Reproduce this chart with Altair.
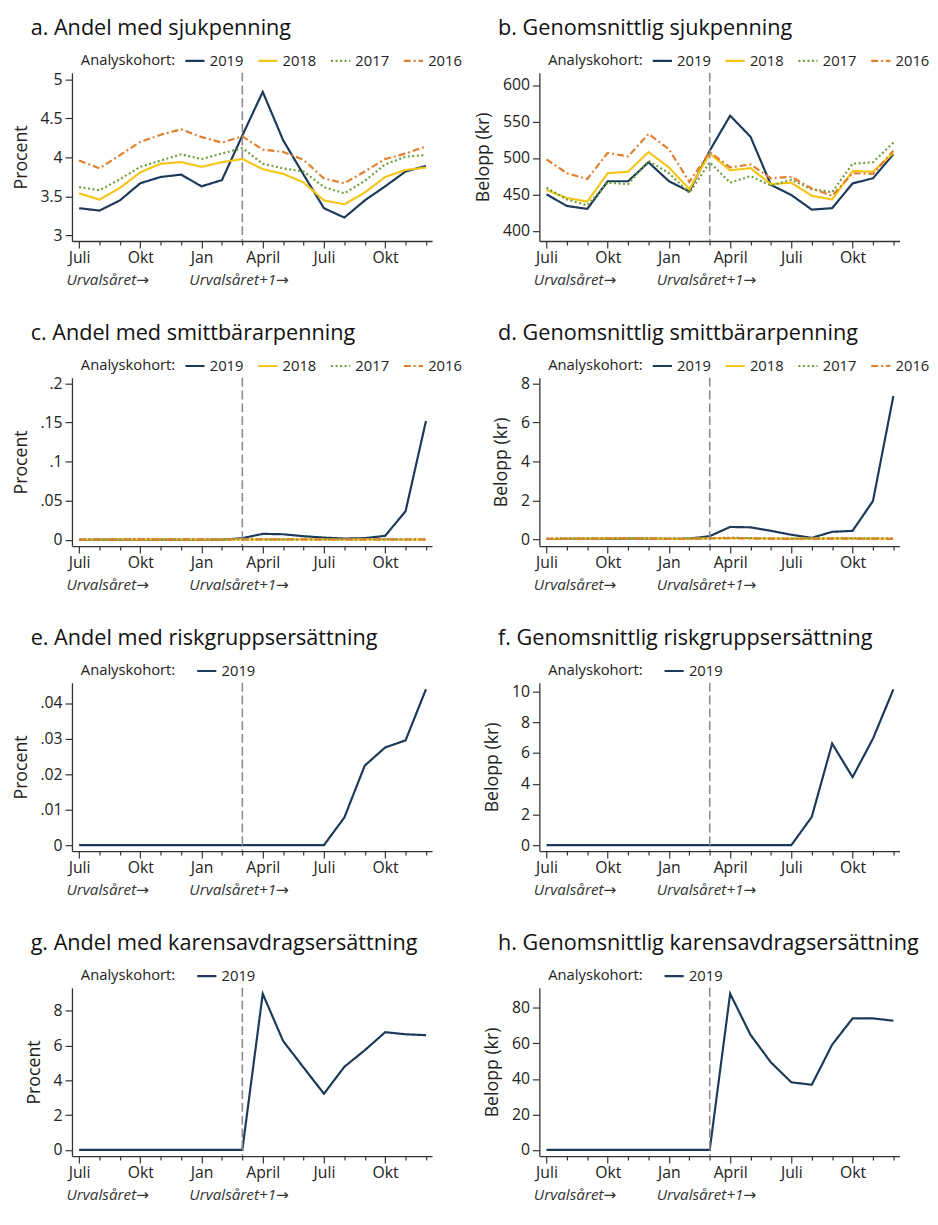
import altair as alt
import pandas as pd

FONT = "Open Sans, DejaVu Sans"
W, H = 366, 171

months = list(range(18))
month_names = {0: "Juli", 3: "Okt", 6: "Jan", 9: "April", 12: "Juli", 15: "Okt"}
cohorts = ["2019", "2018", "2017", "2016"]
cohort_colors = ["#1b3a5a", "#f5c518", "#6e9d3a", "#e07f2e"]
cohort_dashes = [[1, 0], [1, 0], [2, 2.6], [7, 3, 2, 3]]
period_labels = ["Urvalsåret→", "Urvalsåret+1→"]
period_pos = [-0.62, 5.4]
split_month = [8]

# a. Andel med sjukpenning
a_2019 = [3.35, 3.32, 3.45, 3.67, 3.75, 3.78, 3.63, 3.71, 4.28, 4.84, 4.22, 3.78, 3.35, 3.23, 3.45, 3.63, 3.82, 3.89]
a_2018 = [3.54, 3.46, 3.61, 3.81, 3.92, 3.94, 3.88, 3.94, 3.98, 3.85, 3.79, 3.68, 3.45, 3.40, 3.55, 3.75, 3.84, 3.87]
a_2017 = [3.62, 3.58, 3.72, 3.88, 3.96, 4.04, 3.98, 4.05, 4.12, 3.92, 3.86, 3.82, 3.62, 3.54, 3.70, 3.91, 4.01, 4.03]
a_2016 = [3.96, 3.86, 4.03, 4.20, 4.29, 4.36, 4.26, 4.19, 4.27, 4.10, 4.07, 3.97, 3.73, 3.67, 3.82, 3.98, 4.05, 4.14]

# b. Genomsnittlig sjukpenning
b_2019 = [450, 434, 430, 468, 468, 494, 468, 454, 510, 558, 529, 463, 449, 429, 431, 465, 472, 505]
b_2018 = [456, 445, 440, 479, 481, 508, 487, 457, 506, 483, 486, 464, 466, 448, 443, 482, 481, 507]
b_2017 = [459, 443, 435, 466, 464, 496, 479, 452, 494, 466, 475, 462, 470, 457, 453, 492, 494, 521]
b_2016 = [498, 479, 471, 507, 502, 533, 512, 467, 508, 487, 491, 472, 474, 458, 448, 479, 478, 510]

# c. Andel med smittbärarpenning
c_2019 = [0, 0, 0, 0, 0, 0, 0, 0, 0.002, 0.0075, 0.007, 0.0045, 0.0027, 0.0015, 0.002, 0.005, 0.0365, 0.152]
c_2018 = [0.0003, 0.0003, 0.0004, 0.0004, 0.0004, 0.0003, 0.0003, 0.0003, 0.0004, 0.0005, 0.0004, 0.0004, 0.0003, 0.0003, 0.0004, 0.0004, 0.0003, 0.0003]
c_2017 = [0.0004, 0.0003, 0.0003, 0.0004, 0.0005, 0.0004, 0.0003, 0.0004, 0.0004, 0.0004, 0.0004, 0.0003, 0.0003, 0.0004, 0.0004, 0.0004, 0.0004, 0.0003]
c_2016 = [0.0003, 0.0004, 0.0004, 0.0005, 0.0004, 0.0004, 0.0004, 0.0003, 0.0004, 0.0004, 0.0003, 0.0003, 0.0004, 0.0003, 0.0004, 0.0004, 0.0003, 0.0004]

# d. Genomsnittlig smittbärarpenning
d_2019 = [0.02, 0.03, 0.03, 0.04, 0.04, 0.04, 0.03, 0.04, 0.17, 0.64, 0.62, 0.44, 0.24, 0.08, 0.39, 0.44, 1.97, 7.36]
d_2018 = [0.03, 0.04, 0.04, 0.06, 0.06, 0.05, 0.03, 0.03, 0.06, 0.07, 0.06, 0.05, 0.04, 0.04, 0.05, 0.05, 0.04, 0.03]
d_2017 = [0.04, 0.04, 0.05, 0.06, 0.07, 0.06, 0.04, 0.04, 0.07, 0.08, 0.07, 0.05, 0.04, 0.05, 0.06, 0.06, 0.05, 0.05]
d_2016 = [0.03, 0.03, 0.04, 0.05, 0.05, 0.05, 0.03, 0.03, 0.05, 0.06, 0.05, 0.04, 0.03, 0.04, 0.04, 0.04, 0.04, 0.03]

# e. Andel med riskgruppsersättning
e_2019 = [0, 0, 0, 0, 0, 0, 0, 0, 0, 0, 0, 0, 0, 0.0078, 0.0224, 0.0275, 0.0295, 0.0439]
# f. Genomsnittlig riskgruppsersättning
f_2019 = [0, 0, 0, 0, 0, 0, 0, 0, 0, 0, 0, 0, 0, 1.84, 6.62, 4.43, 6.94, 10.15]
# g. Andel med karensavdragsersättning
g_2019 = [0, 0, 0, 0, 0, 0, 0, 0, 0, 8.98, 6.26, 4.74, 3.23, 4.78, 5.73, 6.77, 6.65, 6.60]
# h. Genomsnittlig karensavdragsersättning
h_2019 = [0, 0, 0, 0, 0, 0, 0, 0, 0, 88.0, 64.8, 49.3, 38.1, 36.7, 59.3, 74.1, 74.1, 72.8]

x_label_expr = " : ".join(
    [f"datum.value == {k} ? '{v}'" for k, v in month_names.items()]
) + " : ''"
x_scale = alt.Scale(domain=[-0.35, 17.3], nice=False, zero=False)
x_axis = alt.Axis(
    values=months, labelExpr=x_label_expr, title=None, grid=False,
    labelFlush=False, labelOverlap=False, labelPadding=2,
    tickSize={"condition": {"test": "datum.value % 3 === 0", "value": 7}, "value": 4},
)


def make_panel(title, series, ytitle, ydom, yticks, ylabel_expr=None, title_pad=8):
    names = list(series.keys())
    recs = []
    for n in names:
        for m, v in zip(months, series[n]):
            recs.append({"month": m, "value": v, "cohort": n})
    df = pd.DataFrame(recs)
    idx = [cohorts.index(n) for n in names]
    colors = [cohort_colors[i] for i in idx]
    dashes = [cohort_dashes[i] for i in idx]

    leg = alt.Legend(
        title="Analyskohort:", orient="none", legendX=9, legendY=-23,
        direction="horizontal", titleOrient="left", titleFontSize=15,
        titleFontWeight="normal", titleFont=FONT, titleColor="#222",
        labelFont=FONT, labelFontSize=15, labelColor="#222",
        symbolType="stroke", symbolSize=380, symbolStrokeWidth=2.2,
        columnPadding=9, labelOffset=4, titlePadding=title_pad, padding=0,
        titleBaseline="middle", titleAnchor="middle",
    )

    yaxis_kwargs = dict(
        values=yticks, title=ytitle, grid=False, labelFlush=False,
        tickSize=7, labelPadding=3, titlePadding=10, format=".2~f",
    )
    if ylabel_expr:
        yaxis_kwargs["labelExpr"] = ylabel_expr
    y_axis = alt.Axis(**yaxis_kwargs)

    def xe():
        return alt.X("month:Q", scale=x_scale, axis=x_axis)

    lines = alt.Chart(df).mark_line(strokeWidth=2.2, strokeJoin="miter").encode(
        x=xe(),
        y=alt.Y("value:Q", scale=alt.Scale(domain=ydom, nice=False, zero=False), axis=y_axis),
        color=alt.Color("cohort:N", scale=alt.Scale(domain=names, range=colors),
                        sort=names, legend=leg),
        strokeDash=alt.StrokeDash("cohort:N", scale=alt.Scale(domain=names, range=dashes),
                                  sort=names, legend=leg),
        detail="cohort:N",
    )

    rule = alt.Chart(pd.DataFrame({"month": split_month})).mark_rule(
        color="#8c8c8c", strokeDash=[9, 4], strokeWidth=1.6
    ).encode(x=xe())

    txt = alt.Chart(pd.DataFrame({"month": period_pos, "t": period_labels})).mark_text(
        align="left", baseline="middle", fontStyle="italic", fontSize=15.5,
        font=FONT, color="#333"
    ).encode(x=xe(), y=alt.value(H + 40), text="t:N")

    ttl = alt.Chart(pd.DataFrame({"t": [title]})).mark_text(
        align="left", baseline="middle", fontSize=22, font=FONT, color="#111"
    ).encode(x=alt.value(-42), y=alt.value(-45), text="t:N")

    return alt.layer(lines, rule, txt, ttl).properties(width=W, height=H)


dot_expr = "replace(datum.label, '0.', '.')"

pa = make_panel("a. Andel med sjukpenning",
                {"2019": a_2019, "2018": a_2018, "2017": a_2017, "2016": a_2016},
                "Procent", [2.93, 5.084], [3, 3.5, 4, 4.5, 5])
pb = make_panel("b. Genomsnittlig sjukpenning",
                {"2019": b_2019, "2018": b_2018, "2017": b_2017, "2016": b_2016},
                "Belopp (kr)", [385.9, 616.9], [400, 450, 500, 550, 600])
pc = make_panel("c. Andel med smittbärarpenning",
                {"2019": c_2019, "2018": c_2018, "2017": c_2017, "2016": c_2016},
                "Procent", [-0.0081, 0.2072], [0, 0.05, 0.1, 0.15, 0.2], dot_expr)
pd_ = make_panel("d. Genomsnittlig smittbärarpenning",
                 {"2019": d_2019, "2018": d_2018, "2017": d_2017, "2016": d_2016},
                 "Belopp (kr)", [-0.34, 8.29], [0, 2, 4, 6, 8])
pe = make_panel("e. Andel med riskgruppsersättning", {"2019": e_2019},
                "Procent", [-0.00167, 0.0457], [0, 0.01, 0.02, 0.03, 0.04], dot_expr, title_pad=20)
pf = make_panel("f. Genomsnittlig riskgruppsersättning", {"2019": f_2019},
                "Belopp (kr)", [-0.39, 10.58], [0, 2, 4, 6, 8, 10], title_pad=20)
pg = make_panel("g. Andel med karensavdragsersättning", {"2019": g_2019},
                "Procent", [-0.36, 9.32], [0, 2, 4, 6, 8], title_pad=20)
ph = make_panel("h. Genomsnittlig karensavdragsersättning", {"2019": h_2019},
                "Belopp (kr)", [-3.5, 91.3], [0, 20, 40, 60, 80], title_pad=20)

chart = alt.concat(pa, pb, pc, pd_, pe, pf, pg, ph, columns=2, bounds="flush",
                   spacing={"row": 139, "column": 109}).resolve_scale(
    color="independent", strokeDash="independent", x="independent", y="independent"
).configure(
    padding={"top": 0, "left": 4, "right": 0, "bottom": 0}, background="white"
).configure_view(stroke=None).configure_axis(
    labelFont=FONT, titleFont=FONT, labelFontSize=16, titleFontSize=18,
    titleFontWeight="normal", labelColor="#222", titleColor="#222",
    domainColor="#333", domainWidth=1.3, tickColor="#333", tickWidth=1.2,
)

chart.save("out.html", embed_options={"renderer": "svg", "actions": False})
